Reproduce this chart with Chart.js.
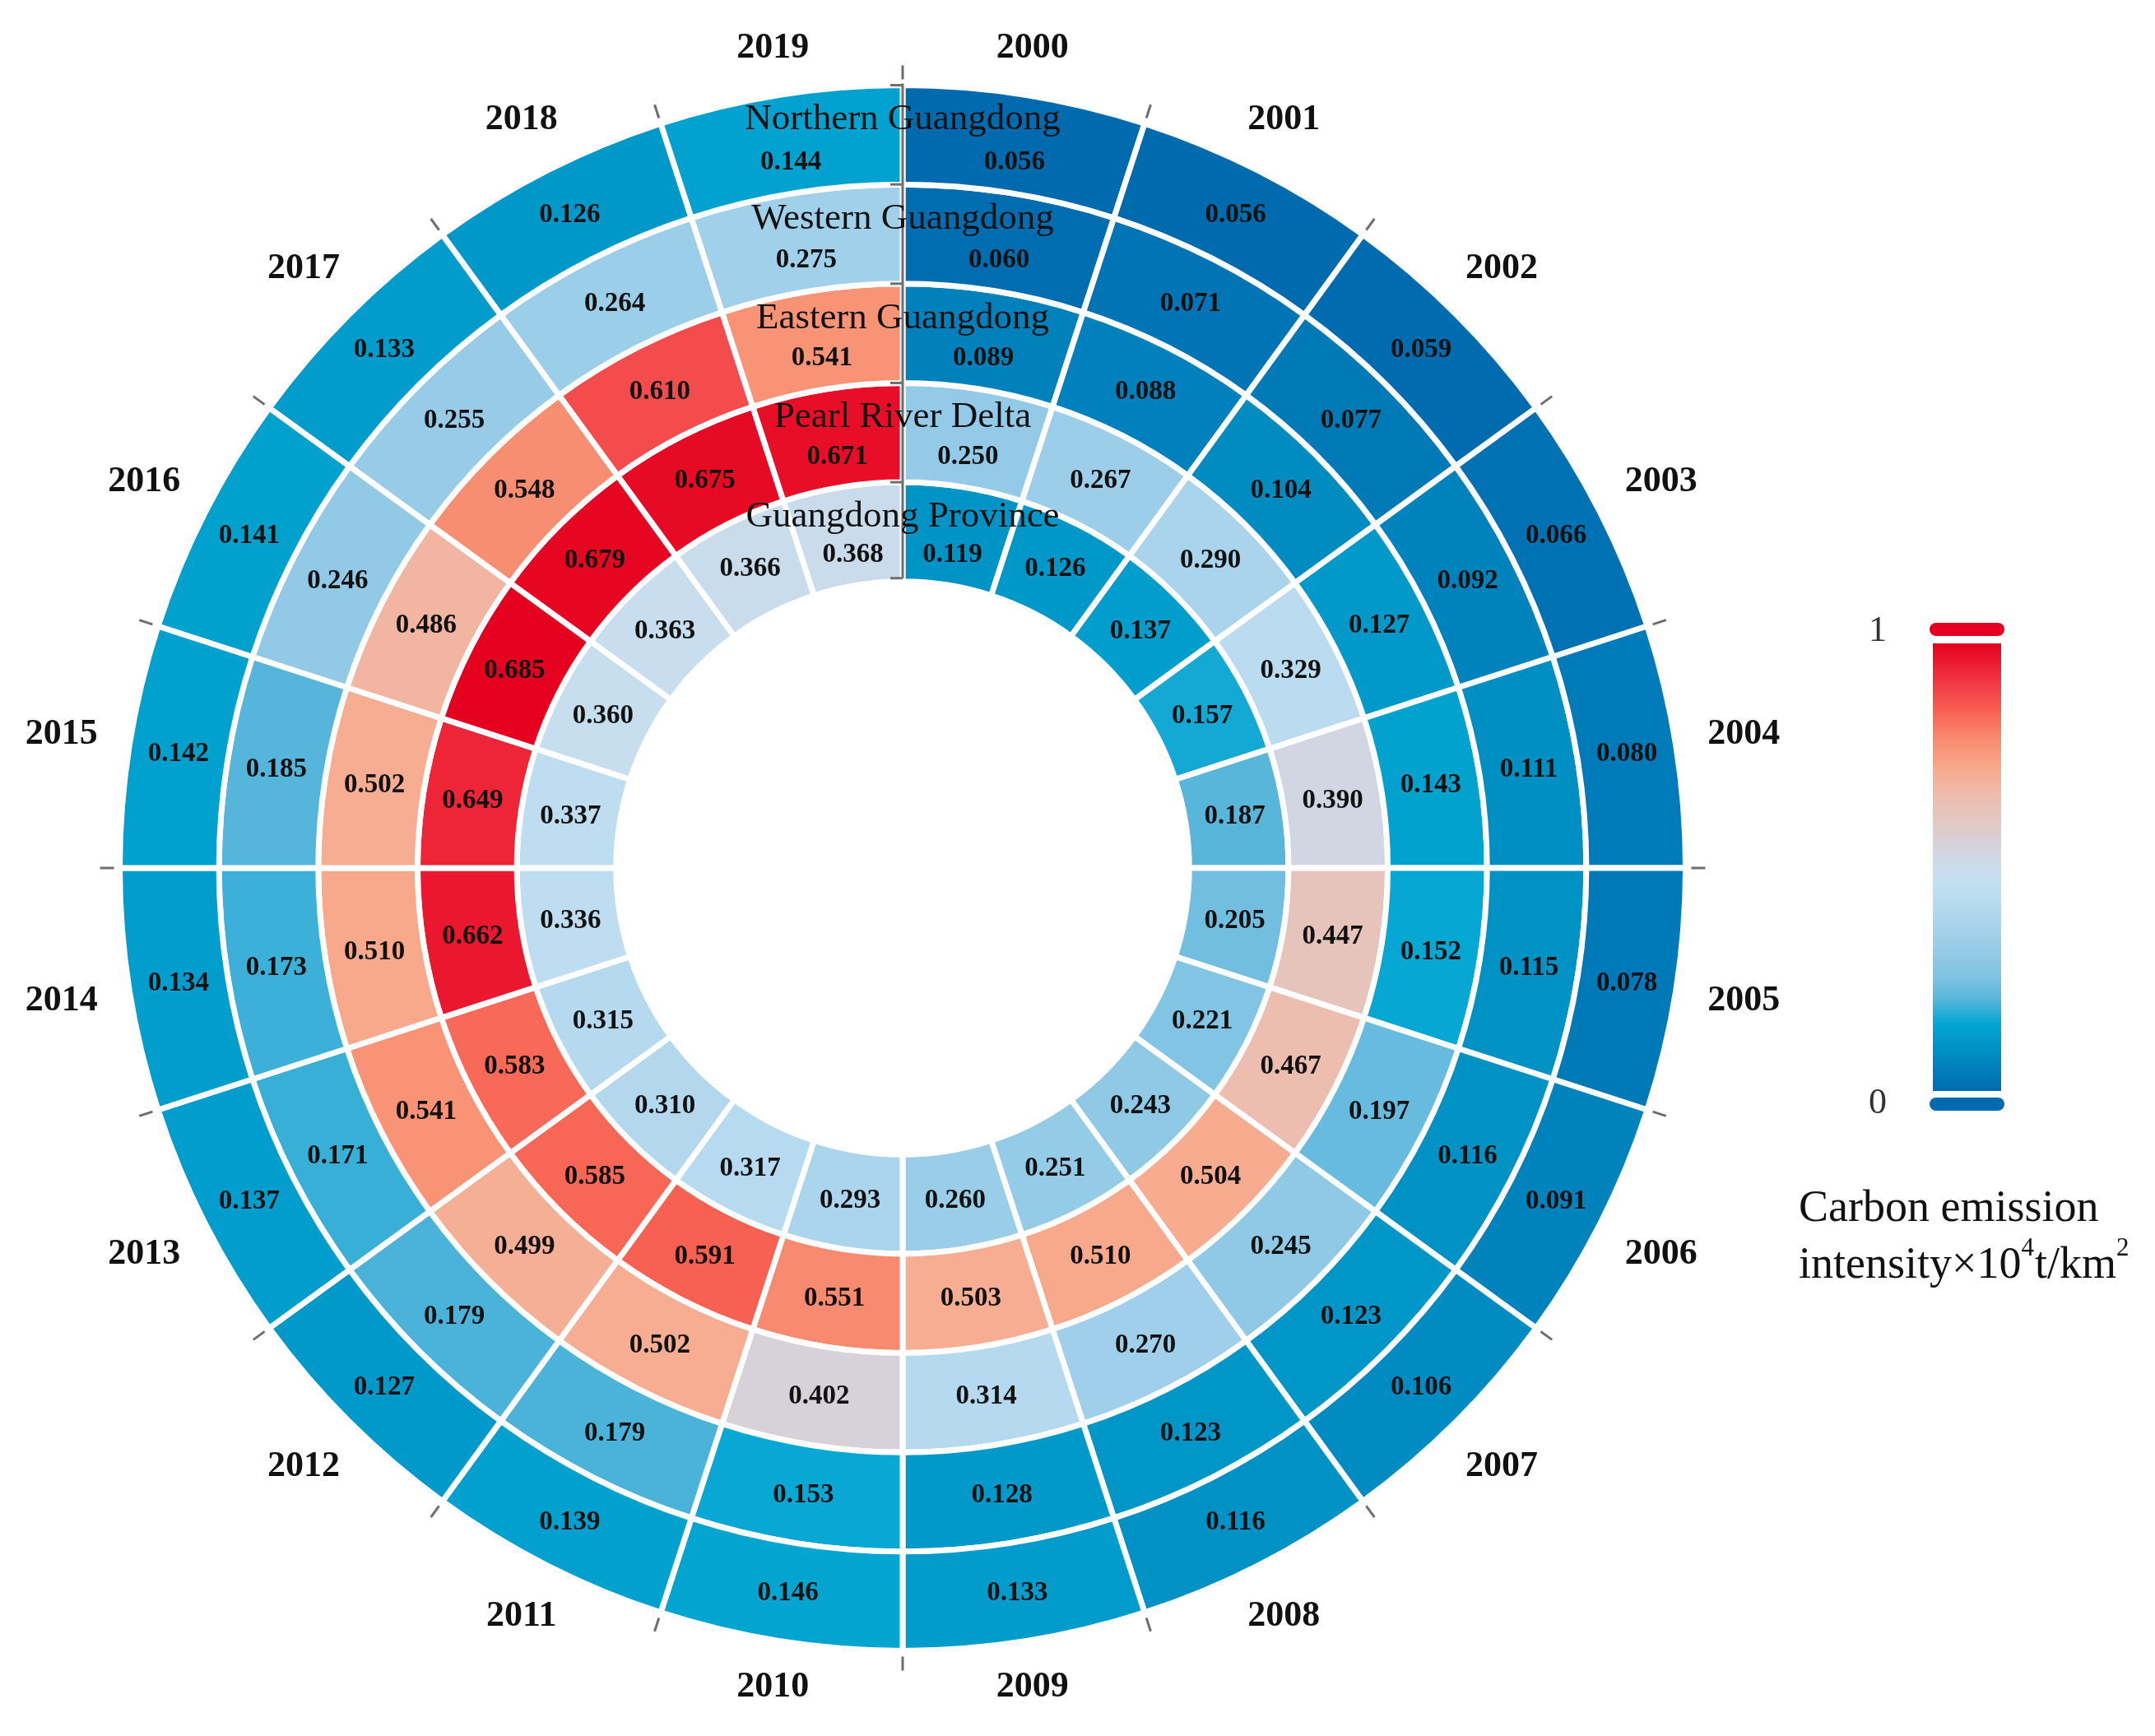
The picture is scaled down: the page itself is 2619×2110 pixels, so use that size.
<!DOCTYPE html>
<html><head><meta charset="utf-8">
<script src="https://cdn.jsdelivr.net/npm/chart.js@4.4.1/dist/chart.umd.min.js"></script>
<style>html,body{margin:0;padding:0;background:#fff;}canvas{display:block;}</style>
</head><body>
<div style="position:relative;width:2619px;height:2110px;">
<canvas id="c" width="2619" height="2110" style="width:2619px;height:2110px"></canvas>
</div>
<script>
// ---------------- DATA ----------------
const years = ['2000','2001','2002','2003','2004','2005','2006','2007','2008','2009',
               '2010','2011','2012','2013','2014','2015','2016','2017','2018','2019'];
const regions = ['Northern Guangdong','Western Guangdong','Eastern Guangdong','Pearl River Delta','Guangdong Province'];
const northern = [0.056,0.056,0.059,0.066,0.080,0.078,0.091,0.106,0.116,0.133,
                  0.146,0.139,0.127,0.137,0.134,0.142,0.141,0.133,0.126,0.144];
const western  = [0.060,0.071,0.077,0.092,0.111,0.115,0.116,0.123,0.123,0.128,
                  0.153,0.179,0.179,0.171,0.173,0.185,0.246,0.255,0.264,0.275];
const eastern  = [0.089,0.088,0.104,0.127,0.143,0.152,0.197,0.245,0.270,0.314,
                  0.402,0.502,0.499,0.541,0.510,0.502,0.486,0.548,0.610,0.541];
const prd      = [0.250,0.267,0.290,0.329,0.390,0.447,0.467,0.504,0.510,0.503,
                  0.551,0.591,0.585,0.583,0.662,0.649,0.685,0.679,0.675,0.671];
const province = [0.119,0.126,0.137,0.157,0.187,0.205,0.221,0.243,0.251,0.260,
                  0.293,0.317,0.310,0.315,0.336,0.337,0.360,0.363,0.366,0.368];
const colorbarTicks = ['0','1'];
const legendTitleLine1 = 'Carbon emission';
const legendTitleLine2 = ['intensity×10','4','t/km','2'];

// ---------------- STYLE ----------------
const series = [northern, western, eastern, prd, province]; // outer -> inner
const cmapStops = [
  [0.00,'#006aae'],[0.05,'#0080bc'],[0.10,'#0094c6'],[0.15,'#02a6d2'],
  [0.20,'#52b4da'],[0.25,'#7cc2e2'],[0.32,'#98cce8'],[0.40,'#b2d8ee'],
  [0.47,'#c4e0f2'],[0.53,'#d2d6e2'],[0.60,'#e2c8c4'],[0.66,'#eebcae'],
  [0.72,'#f8aa8c'],[0.79,'#f88a6e'],[0.85,'#f86052'],[0.90,'#f24048'],
  [0.95,'#ec2034'],[1.00,'#e4001e']
];
const allVals = series.flat();
const vMin = Math.min(...allVals), vMax = Math.max(...allVals);
function hex2rgb(h){return [parseInt(h.substr(1,2),16),parseInt(h.substr(3,2),16),parseInt(h.substr(5,2),16)];}
function cmap(t){
  t = Math.max(0, Math.min(1, t));
  for (let i=1;i<cmapStops.length;i++){
    if (t <= cmapStops[i][0]){
      const [t0,c0]=cmapStops[i-1],[t1,c1]=cmapStops[i];
      const f=(t-t0)/(t1-t0), a=hex2rgb(c0), b=hex2rgb(c1);
      return 'rgb('+a.map((v,k)=>Math.round(v+(b[k]-v)*f)).join(',')+')';
    }
  }
  return cmapStops[cmapStops.length-1][1];
}
const colorFor = v => cmap((v - vMin)/(vMax - vMin));

const SERIF = '"Liberation Serif", "DejaVu Serif", serif';

const labelPlugin = {
  id:'labels',
  afterDatasetsDraw(chart){
    const ctx = chart.ctx;
    const metas = series.map((_,i)=>chart.getDatasetMeta(i));
    const first = metas[0].data[0];
    const cx = first.x, cy = first.y;
    ctx.save();
    // value labels
    ctx.fillStyle = '#111';
    ctx.font = 'bold 33px ' + SERIF;
    ctx.textAlign = 'center'; ctx.textBaseline = 'middle';
    metas.forEach((meta,i)=>{
      meta.data.forEach((arc,j)=>{
        const p = arc.getProps(['startAngle','endAngle','innerRadius','outerRadius']);
        const a = (p.startAngle + p.endAngle)/2;
        let r = (p.innerRadius + p.outerRadius)/2;
        if (j === 0 || j === years.length-1) r -= 22;
        ctx.fillText(series[i][j].toFixed(3), cx + Math.cos(a)*r, cy + Math.sin(a)*r + 1);
      });
    });
    // outer ticks
    const outerR = metas[0].data[0].outerRadius;
    ctx.strokeStyle = '#6e6e6e'; ctx.lineWidth = 3;
    metas[0].data.forEach(arc=>{
      const a = arc.startAngle;
      ctx.beginPath();
      ctx.moveTo(cx + Math.cos(a)*(outerR+7), cy + Math.sin(a)*(outerR+7));
      ctx.lineTo(cx + Math.cos(a)*(outerR+24), cy + Math.sin(a)*(outerR+24));
      ctx.stroke();
    });
    // radial axis
    const innerR = metas[metas.length-1].data[0].innerRadius;
    ctx.strokeStyle = '#707070'; ctx.lineWidth = 3;
    ctx.beginPath(); ctx.moveTo(cx, cy - outerR - 2); ctx.lineTo(cx, cy - innerR - 4); ctx.stroke();
    const bounds = metas.map(m=>m.data[0].outerRadius).concat([innerR + 4]);
    bounds.forEach(r=>{
      ctx.beginPath(); ctx.moveTo(cx - 15, cy - r); ctx.lineTo(cx, cy - r); ctx.stroke();
    });
    // region labels
    ctx.fillStyle = '#111';
    ctx.font = '45px ' + SERIF;
    metas.forEach((meta,i)=>{
      const r = meta.data[0].outerRadius - 42;
      ctx.fillText(regions[i], cx, cy - r);
    });
    // year labels
    ctx.font = 'bold 44px ' + SERIF;
    metas[0].data.forEach((arc,j)=>{
      const a = (arc.startAngle + arc.endAngle)/2;
      const r = outerR + 37 + 45*Math.abs(Math.cos(a)) + 13*Math.abs(Math.sin(a));
      ctx.fillText(years[j], cx + Math.cos(a)*r, cy + Math.sin(a)*r);
    });
    ctx.restore();
  },
  afterDraw(chart){
    const ctx = chart.ctx;
    ctx.save();
    const x0 = 2349, x1 = 2432, yTop = 782, yBot = 1326;
    const g = ctx.createLinearGradient(0, yBot, 0, yTop);
    cmapStops.forEach(([t,c])=>g.addColorStop(t,c));
    ctx.fillStyle = g;
    ctx.fillRect(x0, yTop, x1-x0, yBot-yTop);
    function pill(xa, xb, ya, yb, col){
      const rr = (yb-ya)/2;
      ctx.beginPath();
      ctx.moveTo(xa+rr, ya); ctx.lineTo(xb-rr, ya);
      ctx.arc(xb-rr, ya+rr, rr, -Math.PI/2, Math.PI/2);
      ctx.lineTo(xa+rr, yb);
      ctx.arc(xa+rr, ya+rr, rr, Math.PI/2, Math.PI*1.5);
      ctx.closePath(); ctx.fillStyle = col; ctx.fill();
    }
    pill(2345, 2436, 757, 773, cmap(1));
    pill(2345, 2436, 1334, 1350, cmap(0));
    ctx.fillStyle = '#333';
    ctx.font = '44px ' + SERIF;
    ctx.textAlign = 'center'; ctx.textBaseline = 'middle';
    ctx.fillText(colorbarTicks[1], 2282, 767);
    ctx.fillText(colorbarTicks[0], 2282, 1341);
    // title
    ctx.fillStyle = '#111';
    ctx.textAlign = 'left'; ctx.textBaseline = 'alphabetic';
    ctx.font = '54px ' + SERIF;
    ctx.fillText(legendTitleLine1, 2186, 1484);
    let x = 2186;
    legendTitleLine2.forEach((s,k)=>{
      const sup = (k % 2 === 1);
      ctx.font = (sup ? '31px ' : '54px ') + SERIF;
      ctx.fillText(s, x, sup ? 1526 : 1553);
      x += ctx.measureText(s).width + (sup ? 1 : 0);
    });
    ctx.restore();
  }
};

new Chart(document.getElementById('c'), {
  type: 'doughnut',
  data: {
    labels: years,
    datasets: series.map((vals,i)=>({
      label: regions[i],
      data: years.map(()=>1),
      backgroundColor: vals.map(colorFor),
      borderColor: '#ffffff',
      borderWidth: 7
    }))
  },
  options: {
    responsive: false,
    animation: false,
    events: [],
    radius: 951.5,
    cutout: '36.6%',
    rotation: 0,
    layout: { padding: { left: 0, right: 425, top: 0, bottom: 0 } },
    plugins: { legend: { display: false }, tooltip: { enabled: false } }
  },
  plugins: [labelPlugin]
});
</script>
</body></html>
